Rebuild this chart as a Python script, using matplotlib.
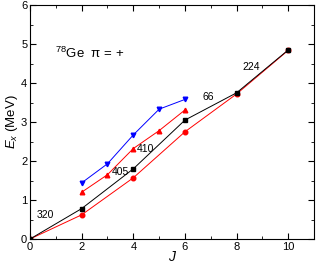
import matplotlib
matplotlib.use('Agg')
from matplotlib import pyplot as plt
from matplotlib.ticker import MultipleLocator

plt.rcParams['font.family'] = ['Liberation Sans', 'DejaVu Sans']
plt.rcParams['mathtext.fontset'] = 'custom'
plt.rcParams['mathtext.rm'] = 'Liberation Sans'
plt.rcParams['mathtext.it'] = 'Liberation Sans:italic'

# yrast band (black squares) and shell model (red circles)
j_yrast = [0, 2, 4, 6, 8, 10]
e_black = [0.0, 0.78, 1.80, 3.05, 3.75, 4.85]
e_red_circ = [0.0, 0.62, 1.57, 2.75, 3.72, 4.84]

# gamma band
j_gamma = [2, 3, 4, 5, 6]
e_red_tri = [1.20, 1.65, 2.32, 2.78, 3.31]
e_blue_tri = [1.44, 1.93, 2.67, 3.33, 3.58]

# B(E2) labels
lbl_text = ['320', '405', '410', '66', '224']
lbl_x = [0.6, 3.5, 4.45, 6.9, 8.58]
lbl_y = [0.62, 1.73, 2.3, 3.65, 4.42]

fig = plt.figure(figsize=(3.16, 2.66), dpi=100)
ax = fig.add_axes([0.095, 0.1015, 0.899, 0.8795])

ax.plot(j_yrast, e_red_circ, '-o', color='red', lw=0.7, ms=3.3)
ax.plot(j_yrast, e_black, '-s', color='black', lw=0.7, ms=3.3)
ax.plot(j_gamma, e_red_tri, '-^', color='red', lw=0.7, ms=3.3)
ax.plot(j_gamma, e_blue_tri, '-v', color='blue', lw=0.7, ms=3.3)

for t, x, y in zip(lbl_text, lbl_x, lbl_y):
    ax.text(x, y, t, fontsize=7.5, ha='center', va='center')

ax.text(0.97, 4.77, r'$^{78}$Ge  π = +', fontsize=9.5, va='center')

ax.set_xlim(0, 11)
ax.set_ylim(0, 6)
ax.xaxis.set_major_locator(MultipleLocator(2))
ax.xaxis.set_minor_locator(MultipleLocator(1))
ax.yaxis.set_major_locator(MultipleLocator(1))
ax.yaxis.set_minor_locator(MultipleLocator(0.5))
ax.tick_params(which='both', direction='in', top=True, right=True, labelsize=8, pad=2)
ax.tick_params(which='major', length=4)
ax.tick_params(which='minor', length=2)
ax.set_xlabel(r'$J$', fontsize=10, labelpad=-1)
ax.set_ylabel(r'$E_x$ (MeV)', fontsize=9.5, labelpad=1)

fig.savefig('out.png', dpi=100)
